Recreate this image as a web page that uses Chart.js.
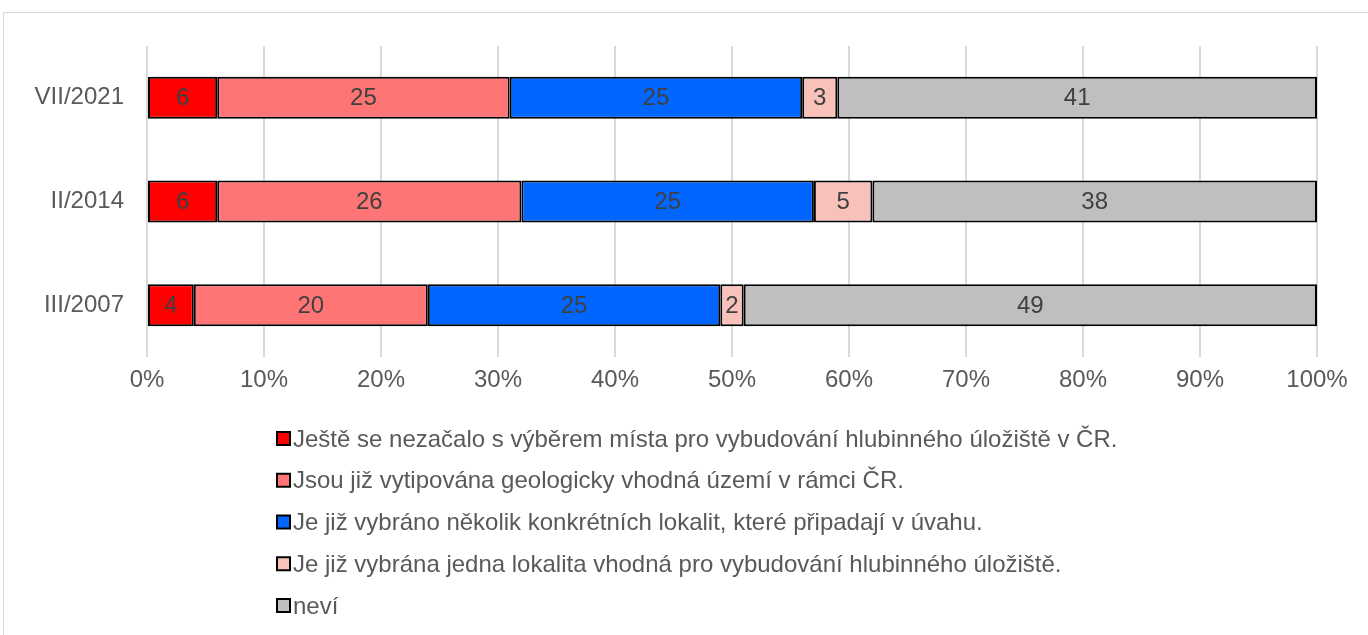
<!DOCTYPE html>
<html>
<head>
<meta charset="utf-8">
<script src="https://cdn.jsdelivr.net/npm/chart.js@4.4.1/dist/chart.umd.min.js"></script>
<style>
  html, body { margin: 0; padding: 0; background: #fff; overflow: hidden; }
  #wrap { position: relative; width: 1368px; height: 635px; }
  #frame { position: absolute; left: 3px; top: 12px; width: 1400px; height: 700px; border: 1px solid #d9d9d9; box-sizing: border-box; }
  canvas { position: absolute; left: 0; top: 0; }
</style>
</head>
<body>
<div id="wrap">
  <div id="frame"></div>
  <canvas id="c" width="1368" height="635"></canvas>
</div>
<script>
const categories = ['VII/2021', 'II/2014', 'III/2007'];
const seriesNames = [
  'Ještě se nezačalo s výběrem místa pro vybudování hlubinného úložiště v ČR.',
  'Jsou již vytipována geologicky vhodná území v rámci ČR.',
  'Je již vybráno několik konkrétních lokalit, které připadají v úvahu.',
  'Je již vybrána jedna lokalita vhodná pro vybudování hlubinného úložiště.',
  'neví'
];
const notStarted = [6, 6, 4];
const areasIdentified = [25, 26, 20];
const severalSites = [25, 25, 25];
const oneSite = [3, 5, 2];
const dontKnow = [41, 38, 49];
const tickLabels = ['0%', '10%', '20%', '30%', '40%', '50%', '60%', '70%', '80%', '90%', '100%'];
const colors = ['#FF0000', '#FF7575', '#0066FF', '#F8C2BA', '#BFBFBF'];

const FONT = '"Liberation Sans", Arial, sans-serif';
const FS = 24;
const values = [notStarted, areasIdentified, severalSites, oneSite, dontKnow];

const datasets = values.map((v, i) => ({
  label: seriesNames[i],
  data: v,
  backgroundColor: colors[i],
  borderColor: '#000000',
  borderWidth: 2,
  borderSkipped: false,
  barPercentage: 0.405,
  categoryPercentage: 1
}));

const valueLabels = {
  id: 'valueLabels',
  afterDatasetsDraw(chart) {
    const ctx = chart.ctx;
    ctx.save();
    ctx.font = FS + 'px ' + FONT;
    ctx.fillStyle = '#404040';
    ctx.textAlign = 'center';
    ctx.textBaseline = 'middle';
    chart.data.datasets.forEach((ds, di) => {
      const meta = chart.getDatasetMeta(di);
      meta.data.forEach((bar, i) => {
        const x = (bar.x + bar.base) / 2;
        ctx.fillText(String(ds.data[i]), x, bar.y + 1);
      });
    });
    ctx.restore();
  }
};

const customLegend = {
  id: 'customLegend',
  afterDraw(chart) {
    const ctx = chart.ctx;
    ctx.save();
    ctx.font = FS + 'px ' + FONT;
    ctx.textAlign = 'left';
    ctx.textBaseline = 'middle';
    chart.data.datasets.forEach((ds, i) => {
      const cy = 439 + i * 41.75;
      ctx.fillStyle = ds.backgroundColor;
      ctx.fillRect(277, cy - 7, 13, 13);
      ctx.lineWidth = 2;
      ctx.strokeStyle = '#000';
      ctx.strokeRect(277, cy - 7, 13, 13);
      ctx.fillStyle = '#595959';
      ctx.fillText(ds.label, 293, cy + 1);
    });
    ctx.restore();
  }
};

new Chart(document.getElementById('c'), {
  type: 'bar',
  data: { labels: categories, datasets },
  options: {
    indexAxis: 'y',
    responsive: false,
    animation: false,
    layout: { padding: { left: 0, right: 51, top: 46, bottom: 238 } },
    plugins: {
      legend: { display: false },
      tooltip: { enabled: false }
    },
    scales: {
      x: {
        stacked: true,
        min: 0,
        max: 100,
        afterBuildTicks(scale) {
          scale.ticks = tickLabels.map((t, i) => ({ value: i * 10 }));
        },
        afterFit(scale) { scale.height = 40; },
        ticks: {
          stepSize: 10,
          padding: 9,
          color: '#595959',
          font: { family: FONT, size: FS },
          callback: (v, i) => tickLabels[i]
        },
        grid: { color: '#d9d9d9', lineWidth: 2, drawTicks: false },
        border: { display: false }
      },
      y: {
        stacked: true,
        afterFit(scale) { scale.width = 147; },
        ticks: {
          padding: 23,
          color: '#595959',
          font: { family: FONT, size: FS }
        },
        grid: { display: false, drawTicks: false },
        border: { display: false }
      }
    }
  },
  plugins: [valueLabels, customLegend]
});
</script>
</body>
</html>
